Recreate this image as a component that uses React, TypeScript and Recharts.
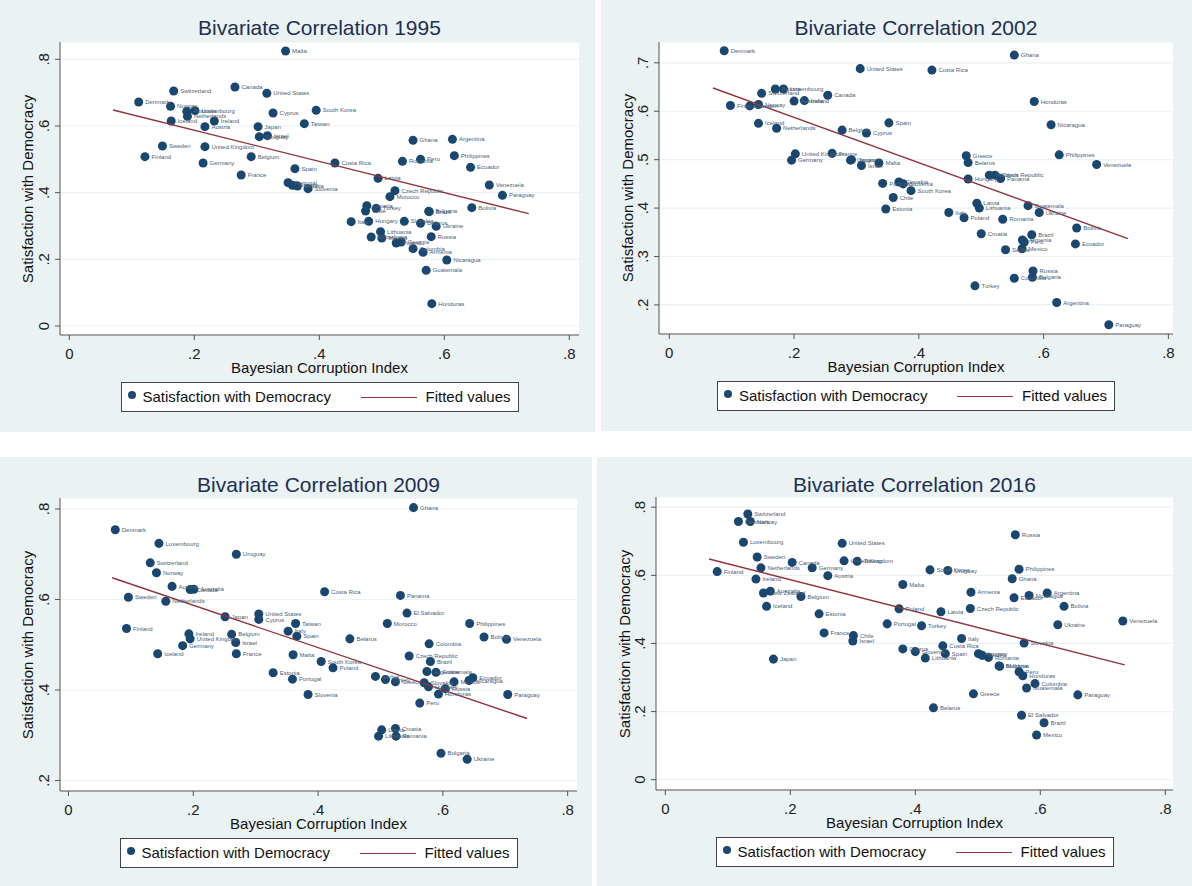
import React from "react";
import {
  ScatterChart,
  Scatter,
  XAxis,
  YAxis,
  ZAxis,
  CartesianGrid,
  LabelList,
} from "recharts";

type Pt = { name: string; x: number; y: number };

const p = (name: string, x: number, y: number): Pt => ({ name, x, y });

const points1995: Pt[] = [
  p("Malta", 0.346, 0.825), p("Switzerland", 0.167, 0.705), p("Canada", 0.265, 0.717),
  p("United States", 0.316, 0.698), p("Denmark", 0.111, 0.672), p("Norway", 0.162, 0.659),
  p("Australia", 0.188, 0.644), p("Luxembourg", 0.201, 0.646), p("Netherlands", 0.189, 0.629),
  p("Iceland", 0.163, 0.615), p("Ireland", 0.232, 0.615), p("Austria", 0.217, 0.598),
  p("Japan", 0.302, 0.598), p("Cyprus", 0.326, 0.639), p("Taiwan", 0.376, 0.607),
  p("South Korea", 0.395, 0.647), p("Uruguay", 0.304, 0.568), p("Israel", 0.317, 0.571),
  p("Sweden", 0.149, 0.54), p("United Kingdom", 0.217, 0.538), p("Finland", 0.121, 0.508),
  p("Germany", 0.214, 0.489), p("Belgium", 0.291, 0.508), p("France", 0.275, 0.453),
  p("Spain", 0.361, 0.472), p("Portugal", 0.35, 0.43), p("Greece", 0.357, 0.422),
  p("Estonia", 0.365, 0.42), p("Slovenia", 0.382, 0.412), p("Ghana", 0.55, 0.557),
  p("Argentina", 0.613, 0.56), p("Philippines", 0.616, 0.511), p("Romania", 0.533, 0.494),
  p("Peru", 0.562, 0.5), p("Ecuador", 0.642, 0.476), p("Costa Rica", 0.425, 0.489),
  p("Latvia", 0.494, 0.443), p("Venezuela", 0.672, 0.423), p("Paraguay", 0.693, 0.392),
  p("Czech Republic", 0.521, 0.406), p("Morocco", 0.513, 0.388), p("Bolivia", 0.644, 0.355),
  p("Croatia", 0.476, 0.361), p("Chile", 0.474, 0.345), p("Turkey", 0.491, 0.353),
  p("Bulgaria", 0.575, 0.344), p("Brazil", 0.576, 0.343), p("Italy", 0.451, 0.313),
  p("Hungary", 0.479, 0.314), p("Slovakia", 0.536, 0.314), p("Belarus", 0.562, 0.308),
  p("Ukraine", 0.587, 0.299), p("Lithuania", 0.498, 0.283), p("Macedonia", 0.483, 0.267),
  p("Mexico", 0.5, 0.264), p("Russia", 0.579, 0.268), p("Poland", 0.523, 0.249),
  p("Georgia", 0.531, 0.252), p("Colombia", 0.55, 0.232), p("Armenia", 0.566, 0.221),
  p("Nicaragua", 0.604, 0.198), p("Guatemala", 0.571, 0.167), p("Honduras", 0.58, 0.067),
];

const points2002: Pt[] = [
  p("Denmark", 0.088, 0.725), p("United States", 0.306, 0.688), p("Austria", 0.17, 0.646),
  p("Luxembourg", 0.183, 0.646), p("Switzerland", 0.148, 0.637), p("Canada", 0.254, 0.633),
  p("Finland", 0.098, 0.612), p("Sweden", 0.129, 0.611), p("Norway", 0.143, 0.614),
  p("Australia", 0.2, 0.621), p("Ireland", 0.2165, 0.622), p("Iceland", 0.143, 0.575),
  p("Netherlands", 0.172, 0.565), p("Spain", 0.352, 0.576), p("Belgium", 0.277, 0.561),
  p("Cyprus", 0.316, 0.555), p("United Kingdom", 0.202, 0.512), p("Germany", 0.196, 0.499),
  p("France", 0.261, 0.513), p("Uruguay", 0.2905, 0.499), p("Japan", 0.292, 0.5),
  p("Israel", 0.308, 0.488), p("Malta", 0.336, 0.493), p("Portugal", 0.342, 0.451),
  p("Slovakia", 0.368, 0.454), p("Slovenia", 0.375, 0.45), p("South Korea", 0.3875, 0.436),
  p("Chile", 0.359, 0.422), p("Estonia", 0.347, 0.398), p("Ghana", 0.553, 0.716),
  p("Costa Rica", 0.421, 0.685), p("Honduras", 0.585, 0.62), p("Nicaragua", 0.612, 0.572),
  p("Greece", 0.476, 0.508), p("Belarus", 0.479, 0.494), p("Philippines", 0.625, 0.51),
  p("Venezuela", 0.685, 0.49), p("Hungary", 0.479, 0.46), p("Moldova", 0.513, 0.468),
  p("Czech Republic", 0.522, 0.468), p("Panama", 0.531, 0.461), p("Latvia", 0.493, 0.41),
  p("Lithuania", 0.497, 0.4), p("Italy", 0.448, 0.391), p("Poland", 0.4725, 0.38),
  p("Romania", 0.5345, 0.377), p("Guatemala", 0.575, 0.405), p("Ukraine", 0.593, 0.391),
  p("Bolivia", 0.653, 0.359), p("Croatia", 0.5, 0.347), p("Brazil", 0.581, 0.345),
  p("Armenia", 0.566, 0.334), p("Peru", 0.569, 0.33), p("Mexico", 0.5655, 0.316),
  p("Serbia", 0.539, 0.314), p("Ecuador", 0.651, 0.326), p("Russia", 0.583, 0.27),
  p("Bulgaria", 0.582, 0.257), p("Colombia", 0.553, 0.255), p("Turkey", 0.49, 0.2395),
  p("Argentina", 0.621, 0.205), p("Paraguay", 0.7045, 0.159),
];

const points2009: Pt[] = [
  p("Denmark", 0.075, 0.754), p("Luxembourg", 0.145, 0.724), p("Uruguay", 0.269, 0.7),
  p("Switzerland", 0.131, 0.681), p("Norway", 0.141, 0.659), p("Austria", 0.166, 0.629),
  p("Canada", 0.195, 0.622), p("Australia", 0.201, 0.6225), p("Sweden", 0.096, 0.605),
  p("Netherlands", 0.156, 0.596), p("Japan", 0.251, 0.562), p("United States", 0.305, 0.568),
  p("Cyprus", 0.305, 0.556), p("Taiwan", 0.364, 0.547), p("Italy", 0.352, 0.53),
  p("Spain", 0.366, 0.519), p("Finland", 0.093, 0.536), p("Ireland", 0.193, 0.524),
  p("United Kingdom", 0.195, 0.513), p("Germany", 0.183, 0.498), p("Iceland", 0.143, 0.48),
  p("Belgium", 0.2615, 0.523), p("Israel", 0.268, 0.505), p("France", 0.269, 0.48),
  p("Malta", 0.36, 0.478), p("Estonia", 0.328, 0.438), p("Portugal", 0.359, 0.424),
  p("Slovenia", 0.384, 0.39), p("South Korea", 0.405, 0.463), p("Ghana", 0.553, 0.803),
  p("Costa Rica", 0.4105, 0.617), p("Panama", 0.532, 0.609), p("El Salvador", 0.5425, 0.57),
  p("Morocco", 0.511, 0.547), p("Philippines", 0.643, 0.547), p("Belarus", 0.451, 0.513),
  p("Bolivia", 0.666, 0.517), p("Venezuela", 0.702, 0.512), p("Colombia", 0.578, 0.502),
  p("Czech Republic", 0.546, 0.475), p("Brazil", 0.58, 0.463), p("Poland", 0.424, 0.449),
  p("Serbia", 0.492, 0.43), p("Turkey", 0.508, 0.423), p("Greece", 0.524, 0.418),
  p("Argentina", 0.5745, 0.441), p("Guatemala", 0.589, 0.439), p("Slovakia", 0.57, 0.416),
  p("Hungary", 0.577, 0.407), p("Honduras", 0.593, 0.391), p("Russia", 0.604, 0.403),
  p("Mexico", 0.618, 0.418), p("Nicaragua", 0.642, 0.421), p("Ecuador", 0.648, 0.427),
  p("Paraguay", 0.704, 0.39), p("Peru", 0.563, 0.371), p("Croatia", 0.524, 0.315),
  p("Latvia", 0.502, 0.312), p("Lithuania", 0.497, 0.298), p("Romania", 0.525, 0.298),
  p("Bulgaria", 0.597, 0.26), p("Ukraine", 0.639, 0.247),
];

const points2016: Pt[] = [
  p("Switzerland", 0.132, 0.78), p("Denmark", 0.117, 0.758), p("Norway", 0.136, 0.758),
  p("Luxembourg", 0.125, 0.697), p("United States", 0.283, 0.694), p("Sweden", 0.147, 0.654),
  p("Canada", 0.203, 0.638), p("Finland", 0.083, 0.611), p("Netherlands", 0.153, 0.622),
  p("Germany", 0.235, 0.622), p("United Kingdom", 0.286, 0.6425), p("Taiwan", 0.307, 0.6415),
  p("Austria", 0.26, 0.599), p("Ireland", 0.145, 0.589), p("New Zealand", 0.157, 0.548),
  p("Australia", 0.168, 0.5535), p("Belgium", 0.217, 0.538), p("Iceland", 0.162, 0.509),
  p("Estonia", 0.246, 0.487), p("France", 0.254, 0.431), p("Chile", 0.301, 0.423),
  p("Israel", 0.3, 0.407), p("Japan", 0.173, 0.354), p("Malta", 0.38, 0.573),
  p("Poland", 0.374, 0.502), p("Portugal", 0.355, 0.4575), p("Cyprus", 0.38, 0.384),
  p("Slovenia", 0.4, 0.376), p("Russia", 0.56, 0.719), p("South Korea", 0.4235, 0.616),
  p("Uruguay", 0.452, 0.614), p("Philippines", 0.566, 0.618), p("Ghana", 0.555, 0.59),
  p("Armenia", 0.489, 0.5505), p("Ecuador", 0.558, 0.534), p("Nicaragua", 0.582, 0.541),
  p("Argentina", 0.611, 0.548), p("Bolivia", 0.638, 0.509), p("Czech Republic", 0.488, 0.5025),
  p("Latvia", 0.441, 0.493), p("Turkey", 0.41, 0.452), p("Ukraine", 0.628, 0.455),
  p("Venezuela", 0.732, 0.466), p("Italy", 0.474, 0.4145), p("Costa Rica", 0.444, 0.393),
  p("Spain", 0.448, 0.37), p("Lithuania", 0.416, 0.357), p("Hungary", 0.501, 0.37),
  p("Serbia", 0.507, 0.365), p("Romania", 0.517, 0.359), p("Bulgaria", 0.534, 0.334),
  p("Moldova", 0.535, 0.333), p("Slovakia", 0.574, 0.401), p("Peru", 0.566, 0.317),
  p("Honduras", 0.572, 0.305), p("Colombia", 0.5915, 0.282), p("Guatemala", 0.578, 0.269),
  p("Greece", 0.493, 0.252), p("Paraguay", 0.66, 0.249), p("Belarus", 0.429, 0.211),
  p("El Salvador", 0.57, 0.189), p("Brazil", 0.606, 0.167), p("Mexico", 0.594, 0.131),
];

// fitted line end points (same in all four panels)
const fitLine = [
  { x: 0.07, y: 0.648 },
  { x: 0.735, y: 0.337 },
];

const xTicks = [0, 0.2, 0.4, 0.6, 0.8];
const yTicksA = [0, 0.2, 0.4, 0.6, 0.8];
const yTicks2002 = [0.2, 0.3, 0.4, 0.5, 0.6, 0.7];
const yTicks2009 = [0.2, 0.4, 0.6, 0.8];

const FONT = '"Liberation Sans", Arial, Helvetica, sans-serif';
const NAVY = "#1a476f";
const RED = "#90353b";
const BG = "#eaf2f3";

const fmt = (v: number) => (v === 0 ? "0" : v.toFixed(1).replace(/^0/, ""));

const YTick = (props: any) => {
  const { x, y, payload } = props;
  return (
    <text
      x={x}
      y={y}
      transform={`rotate(-90 ${x} ${y})`}
      textAnchor="middle"
      fontSize={15}
      fill="#222"
      fontFamily={FONT}
    >
      {fmt(payload.value)}
    </text>
  );
};

interface PanelProps {
  title: string;
  data: Pt[];
  left: number;
  top: number;
  w: number;
  h: number;
  plotL: number;
  plotR: number;
  plotT: number;
  plotB: number;
  xDomain: [number, number];
  yDomain: [number, number];
  yTicks: number[];
}

function Panel(props: PanelProps) {
  const { title, data, left, top, w, h, plotL, plotR, plotT, plotB, xDomain, yDomain, yTicks } = props;
  const cx = (plotL + plotR) / 2;
  const plotW = plotR - plotL;
  const plotH = plotB - plotT;
  return (
    <div style={{ position: "absolute", left, top, width: w, height: h, background: BG, fontFamily: FONT }}>
      <ScatterChart
        width={w}
        height={h}
        margin={{ left: plotL - 40, right: w - plotR, top: plotT, bottom: h - plotB - 20 }}
      >
        <CartesianGrid vertical={false} stroke={BG} strokeWidth={1.2} fill="#ffffff" fillOpacity={1} />
        <XAxis
          type="number"
          dataKey="x"
          domain={xDomain}
          allowDataOverflow
          ticks={xTicks}
          tickFormatter={fmt}
          height={20}
          tickSize={5}
          tickMargin={8}
          stroke="#555"
          tick={{ fontSize: 15, fill: "#222", fontFamily: FONT }}
        />
        <YAxis
          type="number"
          dataKey="y"
          domain={yDomain}
          allowDataOverflow
          ticks={yTicks}
          width={40}
          tickSize={5}
          tickMargin={6}
          stroke="#555"
          tick={<YTick />}
        />
        <ZAxis range={[64, 64]} />
        <Scatter data={data} fill={NAVY} isAnimationActive={false}>
          <LabelList
            dataKey="name"
            position="right"
            offset={2}
            fontSize={6}
            fill="#4a6178"
            fontFamily={FONT}
          />
        </Scatter>
        <Scatter
          data={fitLine}
          line={{ stroke: RED, strokeWidth: 1.4 }}
          shape={() => <g />}
          isAnimationActive={false}
        />
      </ScatterChart>

      <div
        style={{
          position: "absolute",
          left: plotL,
          width: plotW,
          top: 15,
          textAlign: "center",
          fontSize: 21,
          lineHeight: "26px",
          color: "#1e2f52",
        }}
      >
        {title}
      </div>
      <div
        style={{
          position: "absolute",
          left: 27 - plotH / 2,
          width: plotH,
          top: plotT + plotH / 2 - 9,
          lineHeight: "18px",
          fontSize: 15,
          textAlign: "center",
          color: "#111",
          transform: "rotate(-90deg)",
        }}
      >
        Satisfaction with Democracy
      </div>
      <div
        style={{
          position: "absolute",
          left: plotL,
          width: plotW,
          top: plotB + 24,
          lineHeight: "18px",
          fontSize: 15,
          textAlign: "center",
          color: "#111",
        }}
      >
        Bayesian Corruption Index
      </div>
      <div
        style={{
          position: "absolute",
          left: cx - 199,
          top: plotB + 47,
          width: 398,
          height: 30,
          boxSizing: "border-box",
          border: "1px solid #444",
          background: "#fff",
          fontSize: 15,
          color: "#111",
        }}
      >
        <div
          style={{
            position: "absolute",
            left: 6,
            top: 8,
            width: 8,
            height: 8,
            borderRadius: "50%",
            background: NAVY,
          }}
        />
        <div style={{ position: "absolute", left: 21, top: 5, lineHeight: "18px" }}>
          Satisfaction with Democracy
        </div>
        <div
          style={{
            position: "absolute",
            left: 239,
            top: 14,
            width: 56,
            height: 0,
            borderTop: `1.4px solid ${RED}`,
          }}
        />
        <div style={{ position: "absolute", left: 304, top: 5, lineHeight: "18px" }}>
          Fitted values
        </div>
      </div>
    </div>
  );
}

export default function App() {
  return (
    <div style={{ position: "absolute", left: 0, top: 0, width: 1192, height: 886, background: "#fff" }}>
      <Panel
        title="Bivariate Correlation 1995"
        data={points1995}
        left={0}
        top={0}
        w={595}
        h={432}
        plotL={60}
        plotR={579}
        plotT={42}
        plotB={335}
        xDomain={[-0.0149, 0.8155]}
        yDomain={[-0.027, 0.852]}
        yTicks={yTicksA}
      />
      <Panel
        title="Bivariate Correlation 2002"
        data={points2002}
        left={601}
        top={0}
        w={591}
        h={431}
        plotL={58}
        plotR={572}
        plotT={42}
        plotB={334}
        xDomain={[-0.0165, 0.8074]}
        yDomain={[0.14, 0.743]}
        yTicks={yTicks2002}
      />
      <Panel
        title="Bivariate Correlation 2009"
        data={points2009}
        left={0}
        top={457}
        w={592}
        h={429}
        plotL={60}
        plotR={577}
        plotT={41}
        plotB={334}
        xDomain={[-0.0136, 0.815]}
        yDomain={[0.1768, 0.8243]}
        yTicks={yTicks2009}
      />
      <Panel
        title="Bivariate Correlation 2016"
        data={points2016}
        left={597}
        top={457}
        w={595}
        h={429}
        plotL={59}
        plotR={576}
        plotT={40}
        plotB={333}
        xDomain={[-0.0149, 0.8123]}
        yDomain={[-0.0303, 0.83]}
        yTicks={yTicksA}
      />
    </div>
  );
}
